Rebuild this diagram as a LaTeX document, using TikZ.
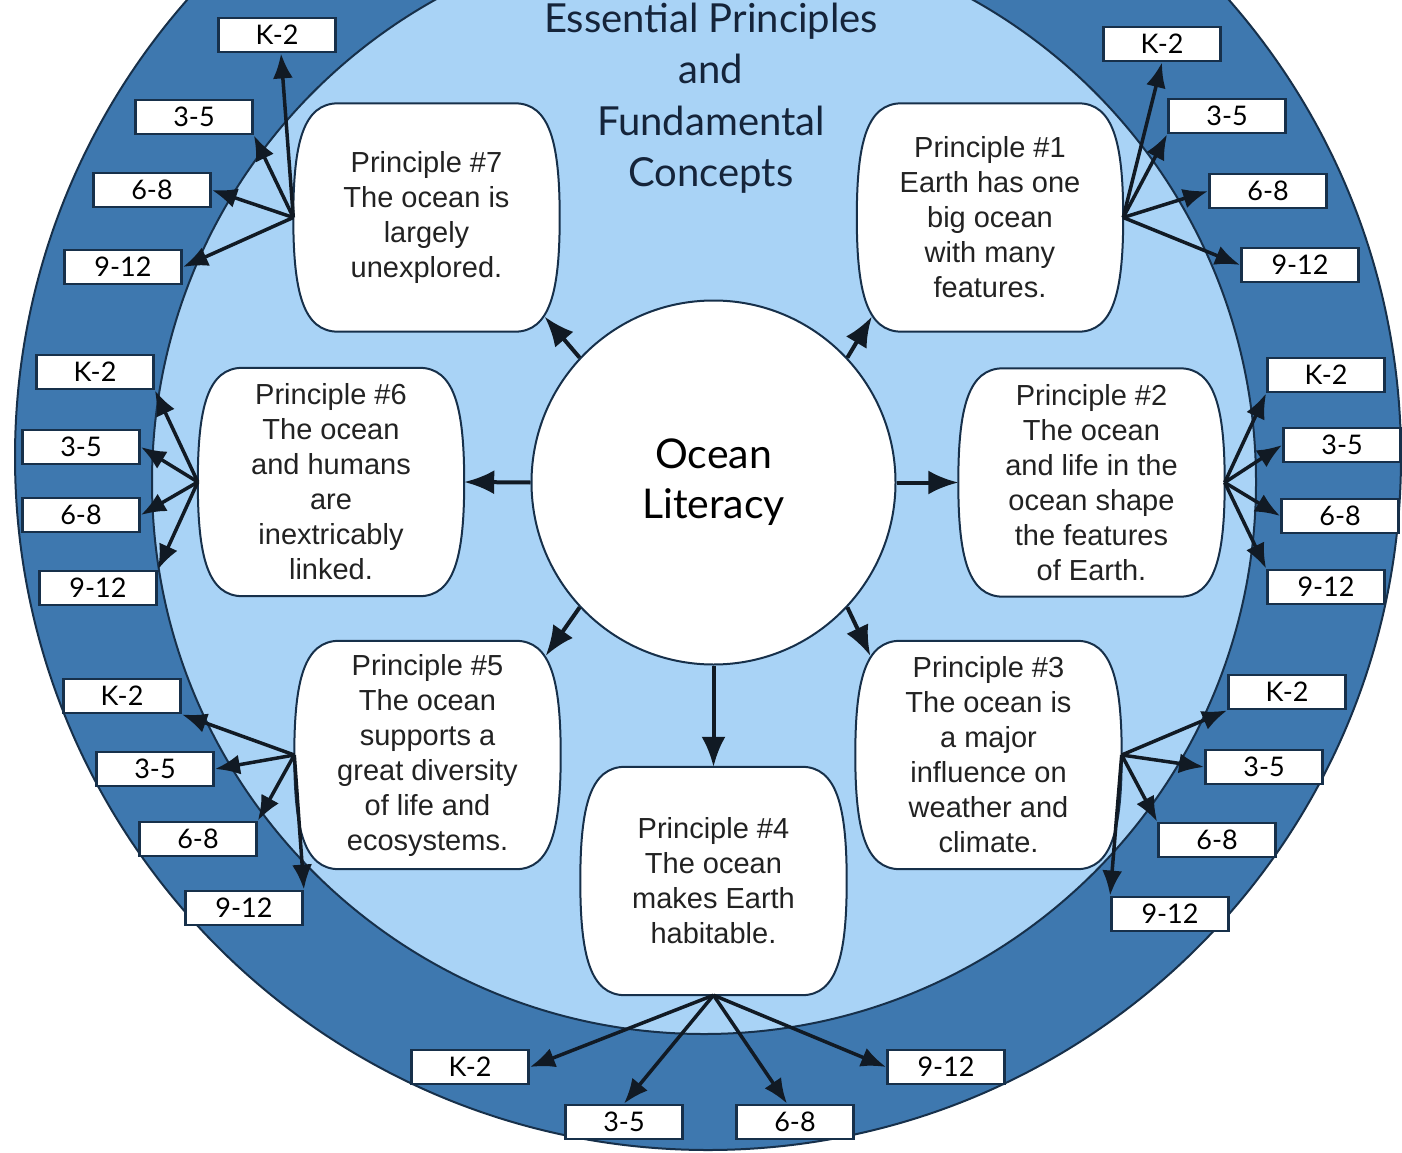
\documentclass[tikz,border=0pt]{standalone}
\usepackage{fontspec}
\setmainfont{Liberation Sans}
\newfontfamily\gillfont{Lato}
\usetikzlibrary{arrows.meta,calc}
\definecolor{darkband}{HTML}{3E78AF}
\definecolor{lightband}{HTML}{A9D3F6}
\definecolor{rimline}{HTML}{17304A}
\definecolor{arrowc}{HTML}{111A24}
\definecolor{ptext}{HTML}{222222}
\definecolor{titlec}{HTML}{15243A}
\pgfdeclarelayer{bglayer}
\pgfdeclarelayer{shapelayer}
\pgfsetlayers{bglayer,shapelayer,main}
\newcommand\prinshape[1]{%
 \draw[rimline, line width=2pt, fill=white]
 ($(#1.north west)+(45,0)$) -- ($(#1.north east)+(-45,0)$)
 .. controls ($(#1.north east)+(-10,0)$) and ($(#1.east)+(0,-75)$) .. (#1.east)
 .. controls ($(#1.east)+(0,75)$) and ($(#1.south east)+(-10,0)$) .. ($(#1.south east)+(-45,0)$)
 -- ($(#1.south west)+(45,0)$)
 .. controls ($(#1.south west)+(10,0)$) and ($(#1.west)+(0,75)$) .. (#1.west)
 .. controls ($(#1.west)+(0,-75)$) and ($(#1.north west)+(10,0)$) .. ($(#1.north west)+(45,0)$) -- cycle;}
\tikzset{
 principle/.style={rectangle, minimum width=266pt, minimum height=228pt, inner sep=0pt, align=center, font=\fontsize{29}{35}\selectfont, text=ptext},
 grade/.style={rectangle, draw=rimline, line width=2.8pt, fill=white, minimum width=117pt, minimum height=34pt, inner sep=0pt, font=\gillfont\fontsize{27}{30}\selectfont, text=black},
 gradearrow/.style={draw=arrowc, line width=3.5pt, -{Latex[length=25pt,width=20pt]}},
 mainarrow/.style={draw=arrowc, line width=4pt, -{Latex[length=30pt,width=24pt]}},
}
\begin{document}
\begin{tikzpicture}[x=1pt,y=-1pt]
\useasboundingbox (0,0) rectangle (1402,1153);
\begin{pgfonlayer}{bglayer}
\fill[white] (0,0) rectangle (1402,1153);
\begin{scope}
\clip (0,0) rectangle (1402,1153);
\draw[rimline, line width=2pt, fill=darkband] (708,457) circle[radius=693];
\draw[rimline, line width=2pt, fill=lightband] (704,482) circle[radius=552];
\end{scope}
\end{pgfonlayer}

% title
\node[font=\gillfont\fontsize{40}{51.5}\selectfont, text=titlec, align=center, inner sep=0pt] (title) at (711,98) {Essential Principles\\and\\Fundamental\\Concepts};

% centre
\node[circle, draw=rimline, line width=2pt, fill=white, minimum size=364pt, inner sep=0pt, align=center, font=\gillfont\fontsize{41}{50}\selectfont] (c) at (713.5,482.5) {Ocean\\Literacy};

% principles
\node[principle] (p7) at (426.5,217.5) {Principle \#7\\The ocean is\\largely\\unexplored.};
\node[principle] (p1) at (990,217.5) {Principle \#1\\Earth has one\\big ocean\\with many\\features.};
\node[principle] (p6) at (331,482) {Principle \#6\\The ocean\\and humans\\are\\inextricably\\linked.};
\node[principle] (p2) at (1091.5,482.5) {Principle \#2\\The ocean\\and life in the\\ocean shape\\the features\\of Earth.};
\node[principle] (p5) at (427.5,755) {Principle \#5\\The ocean\\supports a\\great diversity\\of life and\\ecosystems.};
\node[principle] (p3) at (988.5,755) {Principle \#3\\The ocean is\\a major\\influence on\\weather and\\climate.};
\node[principle] (p4) at (713.5,881) {Principle \#4\\The ocean\\makes Earth\\habitable.};

\begin{pgfonlayer}{shapelayer}
\prinshape{p7}\prinshape{p1}\prinshape{p6}\prinshape{p2}\prinshape{p5}\prinshape{p3}\prinshape{p4}
\end{pgfonlayer}

% grade boxes
\node[grade] (g7a) at (277,35) {K-2};
\node[grade] (g7b) at (194,117) {3-5};
\node[grade] (g7c) at (152,190) {6-8};
\node[grade] (g7d) at (123,267) {9-12};
\node[grade] (g1a) at (1162,44) {K-2};
\node[grade] (g1b) at (1227,116) {3-5};
\node[grade] (g1c) at (1268,191) {6-8};
\node[grade] (g1d) at (1300,265) {9-12};
\node[grade] (g6a) at (95,372) {K-2};
\node[grade] (g6b) at (81,447) {3-5};
\node[grade] (g6c) at (81,515) {6-8};
\node[grade] (g6d) at (98,588) {9-12};
\node[grade] (g2a) at (1326,375) {K-2};
\node[grade] (g2b) at (1342,445) {3-5};
\node[grade] (g2c) at (1340,516) {6-8};
\node[grade] (g2d) at (1326,587) {9-12};
\node[grade] (g5a) at (122,696) {K-2};
\node[grade] (g5b) at (155,769) {3-5};
\node[grade] (g5c) at (198,839) {6-8};
\node[grade] (g5d) at (244,908) {9-12};
\node[grade] (g3a) at (1287,692) {K-2};
\node[grade] (g3b) at (1264,767) {3-5};
\node[grade] (g3c) at (1217,840) {6-8};
\node[grade] (g3d) at (1170,914) {9-12};
\node[grade] (g4a) at (470,1067) {K-2};
\node[grade] (g4b) at (624,1122) {3-5};
\node[grade] (g4c) at (795,1122) {6-8};
\node[grade] (g4d) at (946,1067) {9-12};

% centre arrows
\draw[mainarrow] (c.137) -- ($(p7.south east)+(-15,-15)$);
\draw[mainarrow] (c.43) -- ($(p1.south west)+(15,-15)$);
\draw[mainarrow] (c.west) -- (p6.east);
\draw[mainarrow] (c.east) -- (p2.west);
\draw[mainarrow] (c.223) -- ($(p5.north east)+(-15,15)$);
\draw[mainarrow] (c.317) -- ($(p3.north west)+(15,15)$);
\draw[mainarrow] (c.south) -- (p4.north);

% grade arrows
\draw[gradearrow] (p7.west) -- ($(g7a.south)+(4,0)$);
\draw[gradearrow] (p7.west) -- (g7b.south east);
\draw[gradearrow] (p7.west) -- (g7c.east);
\draw[gradearrow] (p7.west) -- (g7d.east);
\draw[gradearrow] (p1.east) -- (g1a.south);
\draw[gradearrow] (p1.east) -- (g1b.south west);
\draw[gradearrow] (p1.east) -- (g1c.west);
\draw[gradearrow] (p1.east) -- (g1d.west);
\draw[gradearrow] (p6.west) -- (g6a.south east);
\draw[gradearrow] (p6.west) -- (g6b.east);
\draw[gradearrow] (p6.west) -- (g6c.east);
\draw[gradearrow] (p6.west) -- (g6d.north east);
\draw[gradearrow] (p2.east) -- (g2a.south west);
\draw[gradearrow] (p2.east) -- (g2b.west);
\draw[gradearrow] (p2.east) -- (g2c.west);
\draw[gradearrow] (p2.east) -- (g2d.north west);
\draw[gradearrow] (p5.west) -- (g5a.south east);
\draw[gradearrow] (p5.west) -- (g5b.east);
\draw[gradearrow] (p5.west) -- (g5c.north east);
\draw[gradearrow] (p5.west) -- (g5d.north east);
\draw[gradearrow] (p3.east) -- (g3a.south west);
\draw[gradearrow] (p3.east) -- (g3b.west);
\draw[gradearrow] (p3.east) -- (g3c.north west);
\draw[gradearrow] (p3.east) -- (g3d.north west);
\draw[gradearrow] (p4.south) -- (g4a.east);
\draw[gradearrow] (p4.south) -- (g4b.north);
\draw[gradearrow] (p4.south) -- ($(g4c.north)+(-8,0)$);
\draw[gradearrow] (p4.south) -- (g4d.west);
\end{tikzpicture}
\end{document}
